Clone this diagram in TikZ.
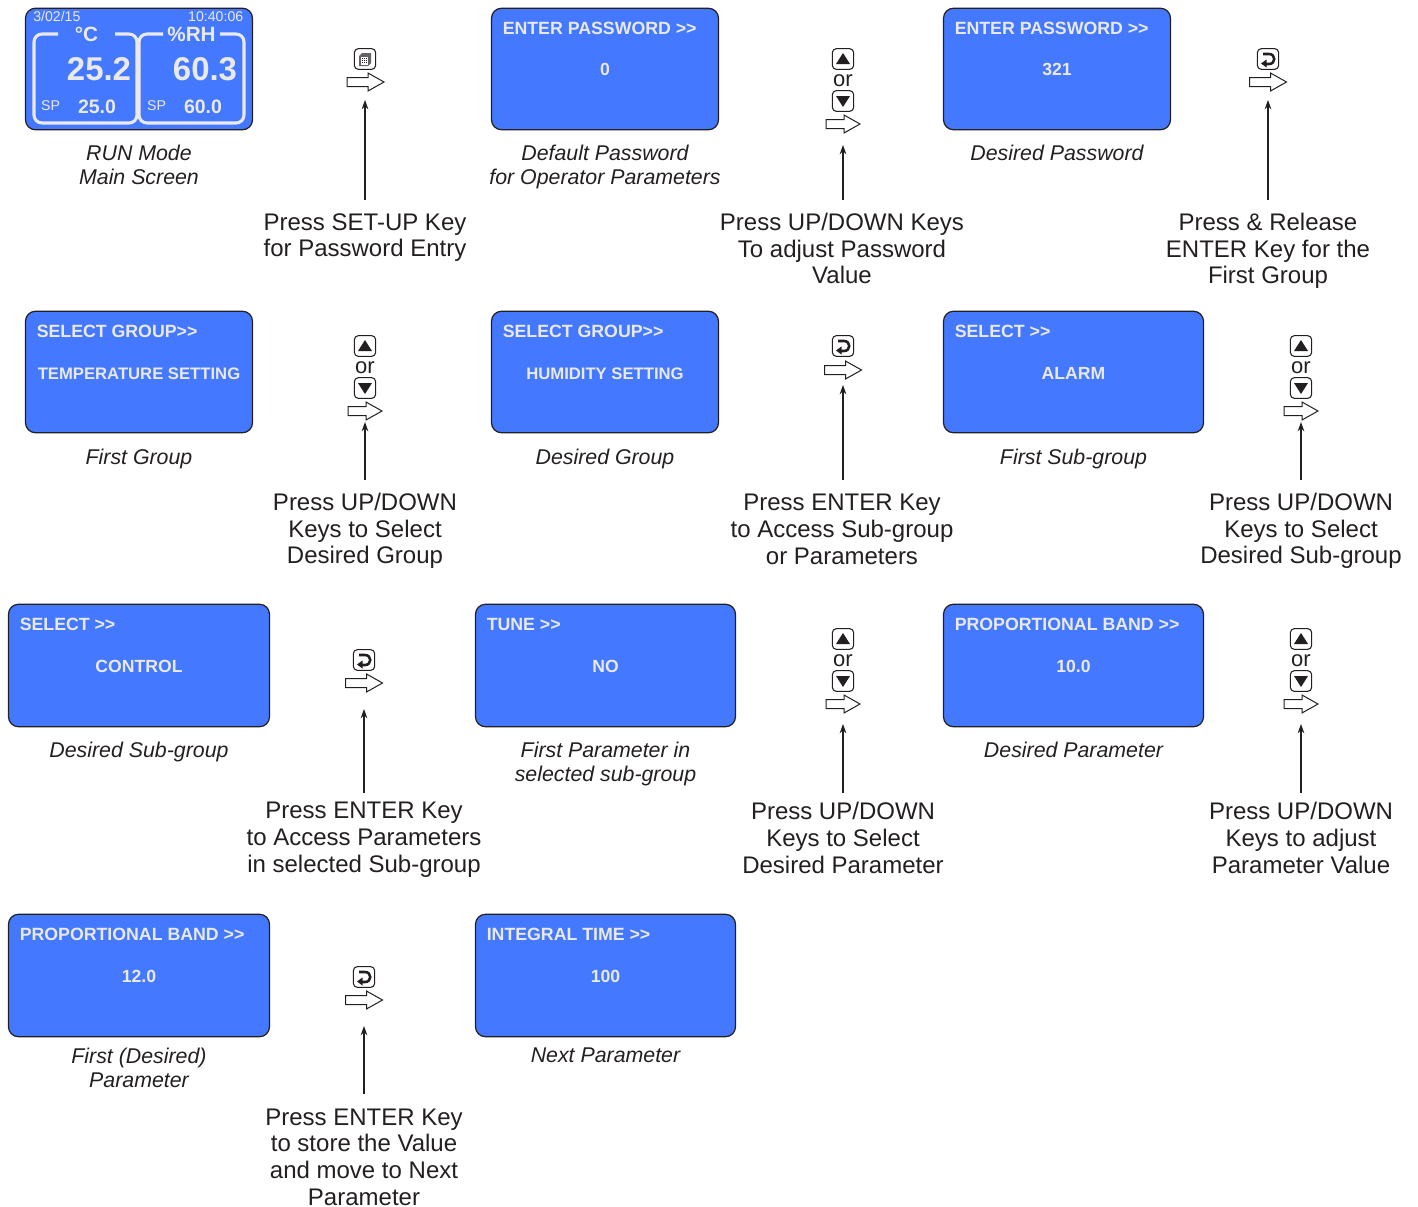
\documentclass[tikz,border=0pt]{standalone}
\usepackage{fontspec}
\setmainfont{Liberation Sans}
\usetikzlibrary{arrows.meta}
\definecolor{scr}{HTML}{4479FF}
\definecolor{scrtxt}{HTML}{E9E9E9}
\definecolor{ink}{HTML}{231F20}
\newcommand{\dblgt}{{>}{>}}
\newcommand{\smallval}{\fontsize{12.5}{15}\selectfont}
\newcommand{\capoff}{15}
\newcommand{\rowdy}{0}
\tikzset{
 x=0.75pt,y=-0.75pt,
 screenbox/.style={draw=ink,line width=0.9pt,fill=scr,rounded corners=7.5pt,inner sep=0pt},
 scrtitle/.style={text=scrtxt,font=\fontsize{13.3}{15}\selectfont\bfseries,anchor=west,inner sep=0pt},
 scrvalue/.style={text=scrtxt,font=\fontsize{13.2}{15}\selectfont\bfseries,inner sep=0pt},
 capt/.style={text=ink,font=\fontsize{16}{18}\selectfont\itshape,align=center,anchor=north,inner sep=0pt},
 lab/.style={text=ink,font=\fontsize{18}{20}\selectfont,align=center,anchor=north,inner sep=0pt},
 orlab/.style={text=ink,font=\fontsize{16.5}{18}\selectfont,inner sep=0pt},
 conn/.style={draw=ink,line width=0.9pt,-{Stealth[length=7pt,width=5pt]}},
 keybox/.style={draw=ink,line width=0.8pt,fill=white,rounded corners=3pt,minimum width=16pt,minimum height=15.5pt,inner sep=0pt},
 hollowarrow/.style={draw=ink,line width=0.75pt,fill=white,line join=miter},
 mainbr/.style={draw=scrtxt,line width=2.3pt,rounded corners=6pt},
 maintxt/.style={text=scrtxt,inner sep=0pt},
}
% \screen{name}{x0}{y0}{x1}{y1}{title}{value}{caption}
\newcommand{\screen}[8]{%
 \node[screenbox,minimum width={(#4-#2-1)*0.75pt},minimum height={(#5-#3-0.5)*0.75pt}] (#1) at ({(#2+#4)/2},{(#3+#5)/2}) {};
 \node[scrtitle] (#1t) at (#2+11.5,#3+20+\rowdy*0.6) {#6};
 \node[scrvalue] (#1v) at ({(#2+#4)/2},#3+61.5+\rowdy) {#7};
 \node[capt] (#1c) at ({(#2+#4)/2},#5+\capoff) {#8};
}
% \hollow{name}{xc}{yc}{halfwidth}
\newcommand{\hollow}[4]{%
 \draw[hollowarrow] (#2-#4,#3-4.5) -- (#2+#4-16,#3-4.5) -- (#2+#4-16,#3-9) -- (#2+#4,#3) -- (#2+#4-16,#3+9) -- (#2+#4-16,#3+4.5) -- (#2-#4,#3+4.5) -- cycle;
 \coordinate (#1) at (#2,#3);
}
\newcommand{\keyup}[3]{%
 \node[keybox] (#1) at (#2,#3) {};
 \fill[ink] (#2,#3-6) -- (#2+7,#3+5) -- (#2-7,#3+5) -- cycle;
}
\newcommand{\keydown}[3]{%
 \node[keybox] (#1) at (#2,#3) {};
 \fill[ink] (#2,#3+6) -- (#2+7,#3-5) -- (#2-7,#3-5) -- cycle;
}
\newcommand{\keyenter}[3]{%
 \node[keybox] (#1) at (#2,#3) {};
 \draw[ink,line width=1.9pt] (#2-5,#3-5) -- (#2+1,#3-5) .. controls (#2+8,#3-5) and (#2+8,#3+5) .. (#2+1,#3+5) -- (#2-2,#3+5);
 \fill[ink] (#2-7,#3+4.5) -- (#2-1.5,#3+0.5) -- (#2-1.5,#3+8.5) -- cycle;
}
\newcommand{\keyset}[3]{%
 \node[keybox] (#1) at (#2,#3) {};
 \fill[ink!70] (#2-6,#3-3) -- (#2-3,#3-6) -- (#2+6,#3-6) -- (#2+6,#3+4) -- (#2+3,#3+7) -- (#2-6,#3+7) -- cycle;
 \fill[white] (#2-4,#3-2) rectangle (#2+3,#3+6);
 \foreach \dx in {-3,-1,1}{\foreach \dy in {-1,1,3}{\fill[ink] (#2+\dx,#3+\dy) rectangle ++(1.2,1.2);}}
}
\newcommand{\updown}[5]{% prefix, x, yup, ydown, yor
 \keyup{#1u}{#2}{#3}
 \node[orlab] (#1o) at (#2,#5+1.5) {or};
 \keydown{#1d}{#2}{#4}
}
% \press{name}{xtext}{ytop-of-text}{xarrow}{ystart}{ytip}{text}
\newcommand{\press}[7]{%
 \node[lab] (#1) at (#2,#3) {#7};
 \coordinate (#1tip) at (#4,#6);
 \draw[conn,shorten <={(#3-#5)*0.75pt}] (#1.north -| #1tip) -- (#1tip);
}
\begin{document}
\begin{tikzpicture}
\useasboundingbox (0,0) rectangle (1418,1207);
% main screen
\node[screenbox,minimum width=170.25pt,minimum height=91.2pt] (main) at (139,69) {};
\draw[mainbr] (58,34) -- (34,34) -- (34,123) -- (137,123) -- (137,34) -- (115,34);
\draw[mainbr] (163,34) -- (139,34) -- (139,123) -- (244,123) -- (244,34) -- (220,34);
\node[maintxt,font=\fontsize{10.6}{12}\selectfont,anchor=west] (mdate) at (33,16.5) {3/02/15};
\node[maintxt,font=\fontsize{10.6}{12}\selectfont,anchor=east] (mtime) at (243.5,16.5) {10:40:06};
\node[maintxt,font=\fontsize{15.5}{18}\selectfont\bfseries] (mc) at (86.5,34) {°C};
\node[maintxt,font=\fontsize{15.5}{18}\selectfont\bfseries] (mrh) at (191.5,34) {\%RH};
\node[maintxt,font=\fontsize{24.7}{28}\selectfont\bfseries] (mt) at (99,69.5) {25.2};
\node[maintxt,font=\fontsize{24.7}{28}\selectfont\bfseries] (mh) at (205,69.5) {60.3};
\node[maintxt,font=\fontsize{10.6}{12}\selectfont] (msp1) at (50.5,105.5) {SP};
\node[maintxt,font=\fontsize{10.6}{12}\selectfont] (msp2) at (156.5,105.5) {SP};
\node[maintxt,font=\fontsize{14.6}{18}\selectfont\bfseries] (mv1) at (97,106.5) {25.0};
\node[maintxt,font=\fontsize{14.6}{18}\selectfont\bfseries] (mv2) at (203,106.5) {60.0};
\node[capt] (mainc) at (139,145) {RUN Mode\\Main Screen};
% row 1
\screen{a2}{491}{8}{719}{130}{ENTER PASSWORD \dblgt}{0}{Default Password\\for Operator Parameters}
\screen{a3}{943}{8}{1171}{130}{ENTER PASSWORD \dblgt}{321}{Desired Password}
\keyset{k1}{365}{59}
\hollow{h1}{365.5}{82}{18.5}
\press{p1}{365}{213}{365}{200}{100}{Press SET-UP Key\\for Password Entry}
\updown{k2}{843}{59}{101}{79}
\hollow{h2}{843}{124}{17}
\press{p2}{842}{213}{843}{200}{145}{Press UP/DOWN Keys\\To adjust Password\\Value}
\keyenter{k3}{1268}{59}
\hollow{h3}{1268}{82}{18.5}
\press{p3}{1268}{213}{1268}{200}{100}{Press \& Release\\ENTER Key for the\\First Group}
% row 2
\renewcommand{\capoff}{16}
\renewcommand{\rowdy}{1}
\screen{b1}{25}{311}{253}{433}{SELECT GROUP\dblgt}{\smallval TEMPERATURE SETTING}{First Group}
\screen{b2}{491}{311}{719}{433}{SELECT GROUP\dblgt}{\smallval HUMIDITY SETTING}{Desired Group}
\screen{b3}{943}{311}{1204}{433}{SELECT \dblgt}{ALARM}{First Sub-group}
\updown{k4}{365}{346}{388}{366}
\hollow{h4}{365}{411}{17}
\press{p4}{365}{493}{365}{480}{422}{Press UP/DOWN\\Keys to Select\\Desired Group}
\keyenter{k5}{843}{346}
\hollow{h5}{843}{370}{18.5}
\press{p5}{842}{494}{843}{480}{385}{Press ENTER Key\\to Access Sub-group\\or Parameters}
\updown{k6}{1301}{346}{388}{366}
\hollow{h6}{1301}{411}{17}
\press{p6}{1301}{493}{1301}{480}{422}{Press UP/DOWN\\Keys to Select\\Desired Sub-group}
% row 3
\renewcommand{\capoff}{15}
\screen{c1}{8}{604}{270}{727}{SELECT \dblgt}{CONTROL}{Desired Sub-group}
\screen{c2}{475}{604}{736}{727}{TUNE \dblgt}{NO}{First Parameter in\\selected sub-group}
\screen{c3}{943}{604}{1204}{727}{PROPORTIONAL BAND \dblgt}{10.0}{Desired Parameter}
\keyenter{k7}{364}{660}
\hollow{h7}{364}{683}{18.5}
\press{p7}{364}{802}{364}{793}{709}{Press ENTER Key\\to Access Parameters\\in selected Sub-group}
\updown{k8}{843}{639}{681}{659}
\hollow{h8}{843}{704}{17}
\press{p8}{843}{802}{843}{793}{724}{Press UP/DOWN\\Keys to Select\\Desired Parameter}
\updown{k9}{1301}{639}{681}{659}
\hollow{h9}{1301}{704}{17}
\press{p9}{1301}{802}{1301}{793}{724}{Press UP/DOWN\\Keys to adjust\\Parameter Value}
% row 4
\renewcommand{\capoff}{11}
\screen{d1}{8}{914}{270}{1037}{PROPORTIONAL BAND \dblgt}{12.0}{First (Desired)\\Parameter}
\screen{d2}{475}{914}{736}{1037}{INTEGRAL TIME \dblgt}{100}{Next Parameter}
\keyenter{k10}{364}{977}
\hollow{h10}{364}{1000}{18.5}
\press{p10}{364}{1108.5}{364}{1094}{1026}{Press ENTER Key\\to store the Value\\and move to Next\\Parameter}
\end{tikzpicture}
\end{document}
